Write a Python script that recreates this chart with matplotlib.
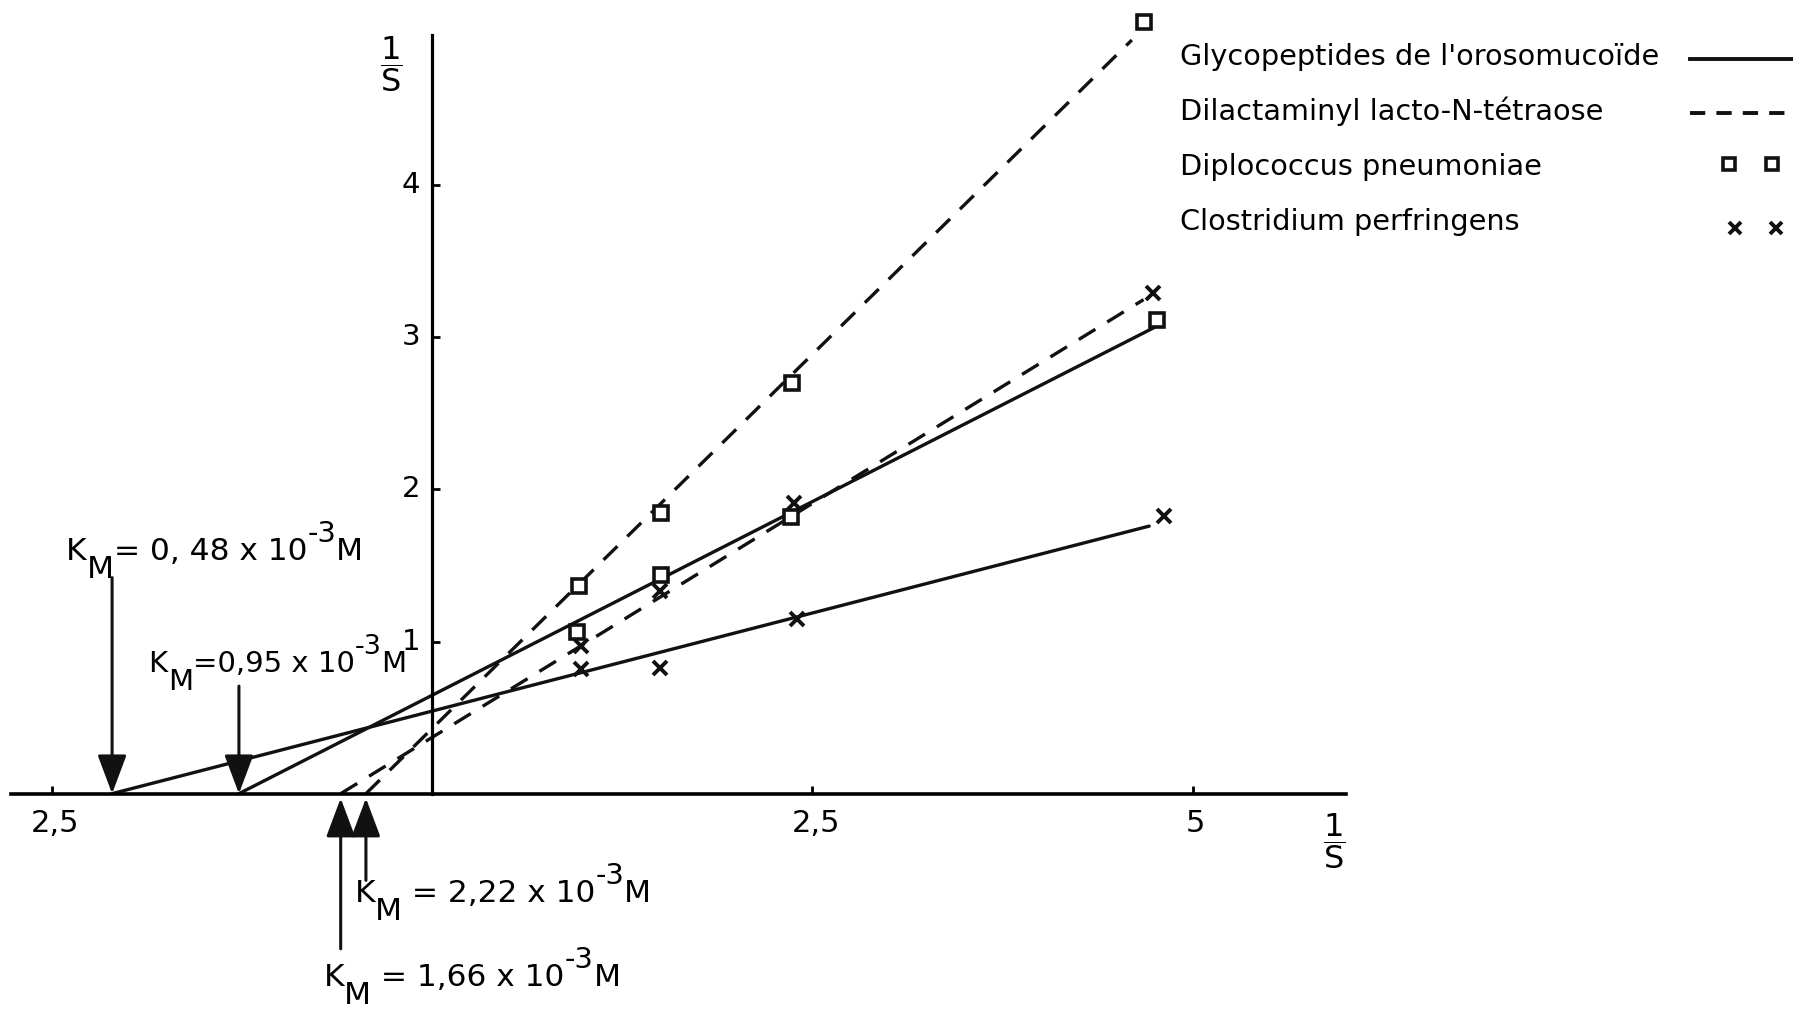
import matplotlib
matplotlib.use('Agg')
import matplotlib.pyplot as plt

plt.rcParams['font.family'] = ['DejaVu Sans']
plt.rcParams['mathtext.fontset'] = 'custom'
plt.rcParams['mathtext.rm'] = 'DejaVu Sans'
plt.rcParams['mathtext.it'] = 'DejaVu Sans'
plt.rcParams['mathtext.default'] = 'regular'
plt.rcParams['lines.scale_dashes'] = False

# ---------------- data (1/S units as drawn) ----------------
x_ticks = [-2.5, 2.5, 5]
x_tick_labels = ['2,5', '2,5', '5']
y_ticks = [1, 2, 3, 4]
y_tick_labels = ['1', '2', '3', '4']

legend_labels = ["Glycopeptides de l'orosomucoïde",
                 "Dilactaminyl lacto-N-tétraose",
                 "Diplococcus pneumoniae",
                 "Clostridium perfringens"]

# Diplococcus pneumoniae (squares)
dip_glyco_x = [0.955, 1.504, 2.361, 4.767]
dip_glyco_y = [1.060, 1.436, 1.820, 3.113]
dip_dilac_x = [0.962, 1.504, 2.368, 4.677]
dip_dilac_y = [1.368, 1.842, 2.699, 5.075]
# Clostridium perfringens (crosses)
clo_glyco_x = [0.977, 1.496, 2.398, 4.812]
clo_glyco_y = [0.820, 0.827, 1.150, 1.827]
clo_dilac_x = [0.977, 1.496, 2.376, 4.737]
clo_dilac_y = [0.970, 1.331, 1.910, 3.293]

# regression lines: x-intercept and upper end point
dip_glyco_line_x = [-1.271, 4.767]
dip_glyco_line_y = [0.0, 3.075]
clo_glyco_line_x = [-2.105, 4.714]
clo_glyco_line_y = [0.0, 1.759]
dip_dilac_line_x = [-0.436, 4.600]
dip_dilac_line_y = [0.0, 4.955]
clo_dilac_line_x = [-0.602, 4.677]
clo_dilac_line_y = [0.0, 3.248]

km_values = ['0, 48', '0,95', '1,66', '2,22']
km_intercepts = [-2.105, -1.271, -0.602, -0.436]

# ---------------- figure ----------------
fig = plt.figure(figsize=(17.93, 10.11), dpi=100)
ax = fig.add_axes([0, 0, 1, 1])
ax.set_xlim(-2.842, 8.947)
ax.set_ylim(-1.429, 5.218)

for s in ['top', 'right']:
    ax.spines[s].set_visible(False)
ax.spines['left'].set_position(('data', 0))
ax.spines['bottom'].set_position(('data', 0))
ax.spines['left'].set_bounds(0, 4.99)
ax.spines['bottom'].set_bounds(-2.767, 6.008)
ax.spines['left'].set_linewidth(2.3)
ax.spines['bottom'].set_linewidth(2.6)
ax.set_xticks(x_ticks)
ax.set_xticklabels([])
ax.set_yticks(y_ticks)
ax.set_yticklabels([])
ax.tick_params(axis='both', direction='in', length=6, width=2)

for xt, lab in zip(x_ticks, x_tick_labels):
    ax.text(xt + 0.02, -0.10, lab, ha='center', va='top', fontsize=22)
for yt, lab in zip(y_ticks, y_tick_labels):
    ax.text(-0.08, yt, lab, ha='right', va='center', fontsize=21)

ax.text(-0.271, 4.80, r'$\dfrac{1}{S}$', ha='center', va='center', fontsize=23)
ax.text(5.932, -0.31, r'$\dfrac{1}{S}$', ha='center', va='center', fontsize=23)

lc = '#111111'
dash = (0, (14, 10))
ax.plot(dip_glyco_line_x, dip_glyco_line_y, color=lc, lw=2.4, solid_capstyle='round')
ax.plot(clo_glyco_line_x, clo_glyco_line_y, color=lc, lw=2.4, solid_capstyle='round')
ax.plot(dip_dilac_line_x, dip_dilac_line_y, color=lc, lw=2.4, linestyle=dash)
ax.plot(clo_dilac_line_x, clo_dilac_line_y, color=lc, lw=2.4, linestyle=dash)

sq = dict(marker='s', ms=10, mfc='white', mec=lc, mew=2.6, linestyle='none')
xx = dict(marker='x', ms=10, mec=lc, mew=2.8, linestyle='none')
ax.plot(dip_glyco_x, dip_glyco_y, **sq)
ax.plot(dip_dilac_x, dip_dilac_y, **sq)
ax.plot(clo_glyco_x, clo_glyco_y, **xx)
ax.plot(clo_dilac_x, clo_dilac_y, **xx)

# KM arrows
arrow_tails = [1.42, 0.707, -1.02, -0.57]
for xi, tail in zip(km_intercepts, arrow_tails):
    tip = 0.0 if tail > 0 else -0.03
    ax.annotate('', xy=(xi, tip), xytext=(xi, tail),
                arrowprops=dict(arrowstyle='-|>,head_length=2.4,head_width=0.9',
                                lw=2.2, color=lc, shrinkA=0, shrinkB=0))


def chain(x, y, pieces, fs):
    """pieces: (text, size factor, baseline shift in points)"""
    prev = ax.text(x, y, pieces[0][0], fontsize=fs * pieces[0][1], ha='left', va='baseline')
    prev_dy = pieces[0][2]
    for txt, sf, dy in pieces[1:]:
        prev = ax.annotate(txt, xy=(1, 0), xycoords=prev, xytext=(0, dy - prev_dy),
                           textcoords='offset points', fontsize=fs * sf,
                           ha='left', va='bottom')
        prev_dy = dy


km_text_pos = [(-2.406, 1.534), (-1.865, 0.797), (-0.714, -1.265), (-0.511, -0.712)]
km_eq = ['= ', '=', ' = ', ' = ']
km_fs = [22.5, 21, 22.5, 22.5]
for (tx, ty), v, eq, f in zip(km_text_pos, km_values, km_eq, km_fs):
    chain(tx, ty, [('K', 1.0, 0), ('M', 1.0, -13), (eq + v + ' x 10', 1.0, 0),
                   ('-3', 0.92, 13), ('M', 1.0, 0)], fs=f)

# legend (text left, key on the right)
leg_y = [0.944, 0.890, 0.835, 0.780]
for yy, lab in zip(leg_y, legend_labels):
    ax.text(0.658, yy, lab, transform=ax.transAxes, ha='left', va='center', fontsize=20.7)
kt = ax.transAxes
ax.plot([0.9426, 1.0], [leg_y[0] - 0.002] * 2, transform=kt, color=lc, lw=2.8, clip_on=False)
ax.plot([0.9426, 1.0], [leg_y[1] - 0.002] * 2, transform=kt, color=lc, lw=2.8,
        linestyle=(0, (11, 8)), clip_on=False)
ax.plot([0.9643, 0.9885], [leg_y[2] + 0.003] * 2, transform=kt, marker='s', ms=8,
        mfc='white', mec=lc, mew=2.6, linestyle='none')
ax.plot([0.9675, 0.9904], [leg_y[3] - 0.006] * 2, transform=kt, marker='x', ms=8,
        mec=lc, mew=2.8, linestyle='none')

fig.savefig('out.png', dpi=100, facecolor='white')
